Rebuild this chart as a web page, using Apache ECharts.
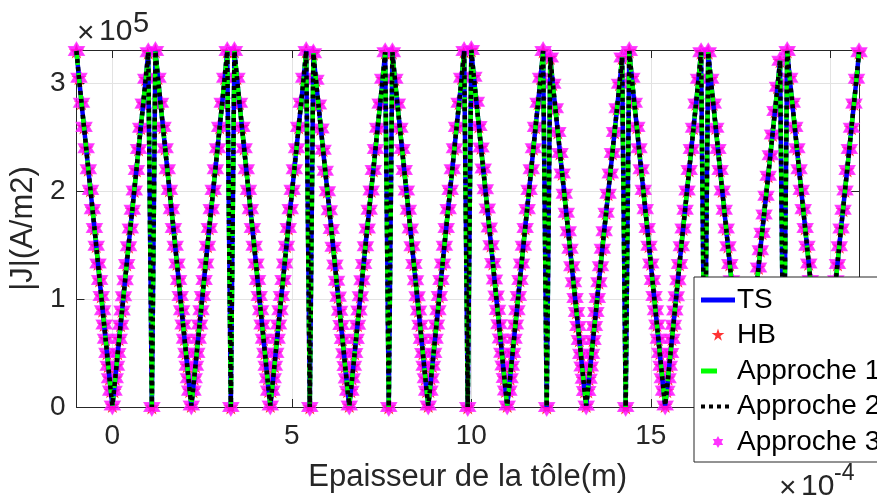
<!DOCTYPE html>
<html>
<head>
<meta charset="utf-8">
<title>|J| dans la tôle feuilletée</title>
<script src="https://cdn.jsdelivr.net/npm/echarts@6/dist/echarts.min.js"></script>
<style>
  html, body { margin: 0; padding: 0; background: #ffffff; }
  #chart { width: 877px; height: 500px; }
</style>
</head>
<body>
<div id="chart"></div>
<script>
// Position along the stack is in units of 1e-4 m, |J| in units of 1e5 A/m2.

// Centre of each lamination
const laminaCentres = [0, 2.2, 4.4, 6.6, 8.8, 11.0, 13.2, 15.4, 17.6, 19.8];
// Middle of each insulating gap, where the current density falls to zero
const gapCentres = [1.1, 3.3, 5.5, 7.7, 9.9, 12.1, 14.3, 16.5, 18.7];
// |J| reached on the left and right faces of each lamination
const faceJLeft  = [3.30, 3.30, 3.30, 3.28, 3.29, 3.31, 3.24, 3.30, 3.29, 3.30];
const faceJRight = [3.29, 3.30, 3.30, 3.29, 3.30, 3.30, 3.24, 3.29, 3.21, 3.29];
// Sampling depth from the lamination centre (face -> centre) and |J| as a share of the face value
const depthFromCentre = [1.0, 0.93, 0.86, 0.79, 0.73, 0.67, 0.61, 0.555, 0.5, 0.45, 0.40,
                         0.355, 0.31, 0.27, 0.23, 0.19, 0.15, 0.115, 0.08, 0.045, 0.0];
const shareOfFace     = [1.0, 0.925, 0.855, 0.787, 0.727, 0.668, 0.61, 0.556, 0.503, 0.453, 0.403,
                         0.357, 0.312, 0.272, 0.232, 0.192, 0.152, 0.116, 0.081, 0.046, 0.004];

// Axis ticks
const xTicks = [0, 5, 10, 15, 20];
const yTicks = [0, 1, 2, 3];
const xRange = [-1, 20.8];
const yRange = [0, 3.31];

const seriesNames = ['TS', 'HB', 'Approche 1', 'Approche 2', 'Approche 3'];

// Walk through the stack: face -> centre -> face for each lamination, with the gap zero in between
function stackProfile() {
  const pts = [];
  laminaCentres.forEach(function (c, k) {
    for (let i = 0; i < depthFromCentre.length; i++) {
      pts.push([c - depthFromCentre[i], faceJLeft[k] * shareOfFace[i]]);
    }
    for (let i = depthFromCentre.length - 2; i >= 0; i--) {
      pts.push([c + depthFromCentre[i], faceJRight[k] * shareOfFace[i]]);
    }
    if (k < gapCentres.length) pts.push([gapCentres[k], 0]);
  });
  return pts;
}
const profile = stackProfile();

const FONT = "'Liberation Sans', Arial, Helvetica, sans-serif";
const AXIS_COLOR = '#262626';
const GRID_COLOR = '#e3e3e3';

const hexagram = 'path://M0,-10L2.887,-5L8.66,-5L5.774,0L8.66,5L2.887,5L0,10L-2.887,5L-8.66,5L-5.774,0L-8.66,-5L-2.887,-5Z';
const pentagram = 'path://M0,-10L2.245,-3.09L9.511,-3.09L3.633,1.18L5.878,8.09L0,3.82L-5.878,8.09L-3.633,1.18L-9.511,-3.09L-2.245,-3.09Z';

// Legend keys drawn inside a 34 x 14 box
const BOX = 'M0,0L0,0M34,14L34,14';
const keyLine   = 'path://' + BOX + 'M0,4.5h34v5h-34z';
const keyDash   = 'path://' + BOX + 'M0,4.5h16v5h-16z';
const keyDots   = 'path://' + BOX + 'M0,5h4v4h-4zM8,5h4v4h-4zM16,5h4v4h-4zM24,5h4v4h-4z';
const keyStar5  = 'path://' + BOX + 'M17,0L18.5,4.6L23.4,4.6L19.4,7.5L20.9,12.2L17,9.3L13.1,12.2L14.6,7.5L10.6,4.6L15.5,4.6Z';
const keyStar6  = 'path://' + BOX + 'M17,1L18.7,4L22.2,4L20.5,7L22.2,10L18.7,10L17,13L15.3,10L11.8,10L13.5,7L11.8,4L15.3,4Z';

function valueAxis(extra) {
  return Object.assign({
    type: 'value',
    axisLine: { show: true, onZero: false, lineStyle: { color: AXIS_COLOR, width: 1 } },
    axisTick: { show: true, inside: true, length: 8, lineStyle: { color: AXIS_COLOR, width: 1 } },
    splitLine: { show: false },
    axisLabel: { show: false }
  }, extra);
}

const chart = echarts.init(document.getElementById('chart'), null, { renderer: 'canvas' });

chart.setOption({
  animation: false,
  backgroundColor: '#ffffff',
  textStyle: { fontFamily: FONT },
  grid: { left: 73, right: 18, top: 50, bottom: 93, containLabel: false },
  xAxis: [
    valueAxis({
      position: 'bottom', min: xRange[0], max: xRange[1],
      axisTick: { show: true, inside: true, length: 8, customValues: xTicks, lineStyle: { color: AXIS_COLOR } },
      axisLabel: { show: true, customValues: xTicks, fontSize: 28, color: AXIS_COLOR, fontFamily: FONT, margin: 15 },
      splitLine: { show: true, lineStyle: { color: GRID_COLOR, width: 1 } },
      name: 'Epaisseur de la tôle(m)', nameLocation: 'middle', nameGap: 55,
      nameTextStyle: { fontSize: 31, color: AXIS_COLOR, fontFamily: FONT }
    }),
    valueAxis({
      position: 'top', min: xRange[0], max: xRange[1],
      axisTick: { show: true, inside: true, length: 8, customValues: xTicks, lineStyle: { color: AXIS_COLOR } }
    })
  ],
  yAxis: [
    valueAxis({
      position: 'left', min: yRange[0], max: yRange[1],
      axisTick: { show: true, inside: true, length: 8, customValues: yTicks, lineStyle: { color: AXIS_COLOR } },
      axisLabel: { show: true, customValues: yTicks, fontSize: 28, color: AXIS_COLOR, fontFamily: FONT, margin: 11 },
      splitLine: { show: true, lineStyle: { color: GRID_COLOR, width: 1 } },
      name: '|J|(A/m2)', nameLocation: 'middle', nameGap: 36, nameRotate: 90,
      nameTextStyle: { fontSize: 31, color: AXIS_COLOR, fontFamily: FONT }
    }),
    valueAxis({
      position: 'right', min: yRange[0], max: yRange[1],
      axisTick: { show: true, inside: true, length: 8, customValues: yTicks, lineStyle: { color: AXIS_COLOR } }
    })
  ],
  legend: {
    orient: 'vertical',
    left: 694, top: 277,
    padding: [9, 12, 6, 7],
    itemWidth: 34, itemHeight: 14, itemGap: 7.5,
    backgroundColor: '#ffffff',
    borderColor: AXIS_COLOR, borderWidth: 1, borderRadius: 0,
    itemStyle: { borderWidth: 0 },
    textStyle: { fontSize: 28, color: '#000000', fontFamily: FONT, padding: [0, 0, 0, -3] },
    selectedMode: false,
    data: [
      { name: seriesNames[0], icon: keyLine },
      { name: seriesNames[1], icon: keyStar5 },
      { name: seriesNames[2], icon: keyDash },
      { name: seriesNames[3], icon: keyDots },
      { name: seriesNames[4], icon: keyStar6 }
    ]
  },
  graphic: [
    { type: 'text', left: 77, top: 19, style: { text: '×', fontSize: 30, fill: AXIS_COLOR, fontFamily: FONT } },
    { type: 'text', left: 99, top: 17, style: { text: '10', fontSize: 30, fill: AXIS_COLOR, fontFamily: FONT } },
    { type: 'text', left: 133, top: 9, style: { text: '5', fontSize: 29, fill: AXIS_COLOR, fontFamily: FONT } },
    { type: 'text', left: 779, top: 474, style: { text: '×', fontSize: 30, fill: AXIS_COLOR, fontFamily: FONT } },
    { type: 'text', left: 801, top: 472, style: { text: '10', fontSize: 30, fill: AXIS_COLOR, fontFamily: FONT } },
    { type: 'text', left: 834, top: 462, style: { text: '-4', fontSize: 23, fill: AXIS_COLOR, fontFamily: FONT } }
  ],
  series: [
    {
      name: seriesNames[0], type: 'line', data: profile,
      showSymbol: false, symbol: 'none', color: '#0000ff',
      lineStyle: { color: '#0000ff', width: 4.5 }
    },
    {
      name: seriesNames[1], type: 'scatter', data: profile,
      symbol: pentagram, symbolSize: [15, 15], color: '#ff0000',
      itemStyle: { color: '#ff0000' }
    },
    {
      name: seriesNames[2], type: 'line', data: profile,
      showSymbol: false, symbol: 'none', color: '#00ff00',
      lineStyle: { color: '#00ff00', width: 4.5, type: [14, 8] }
    },
    {
      name: seriesNames[3], type: 'line', data: profile,
      showSymbol: false, symbol: 'none', color: '#000000',
      lineStyle: { color: '#000000', width: 4.5, type: [4, 4] }
    },
    {
      name: seriesNames[4], type: 'scatter', data: profile,
      symbol: hexagram, symbolSize: [16, 18], color: '#ff00ff',
      itemStyle: { color: '#ff00ff', borderColor: '#ff33ff', borderWidth: 1 }
    }
  ]
});
</script>
</body>
</html>
